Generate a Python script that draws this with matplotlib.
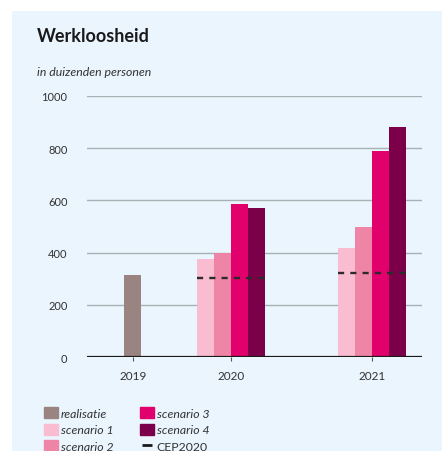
import matplotlib.pyplot as plt
import matplotlib.patches as mpatches
from matplotlib.lines import Line2D
import numpy as np

plt.rcParams['font.family'] = ['Lato', 'DejaVu Sans']

years = ["2019", "2020", "2021"]
realisatie = [314]           # 2019
scenario1 = [375, 419]       # 2020, 2021
scenario2 = [397, 500]
scenario3 = [585, 787]
scenario4 = [571, 880]
cep2020 = [304, 321]

labels = ["realisatie", "scenario 1", "scenario 2", "scenario 3", "scenario 4", "CEP2020"]
colors = ["#9A8481", "#F9BCD0", "#EF85A6", "#E2006D", "#7B0049"]

W, H = 442, 452
fig = plt.figure(figsize=(W / 100, H / 100), dpi=100)
fig.patch.set_facecolor("white")
fig.patches.append(mpatches.Rectangle((12 / W, 0), 1, 1 - 12 / H, transform=fig.transFigure,
                                      facecolor="#EAF5FD", edgecolor="none", zorder=-10))

ax = fig.add_axes([87 / W, (H - 358.3) / H, (421.7 - 87) / W, (358.3 - 96.7) / H])
ax.set_facecolor("none")

# group centres in bar-width units
centers = np.array([0, 5.79, 14.09])
bw = 1.0
offs = np.array([-1.5, -0.5, 0.5, 1.5])

ax.bar(centers[0], realisatie[0], width=bw, color=colors[0], zorder=3)
for i, ser in enumerate([scenario1, scenario2, scenario3, scenario4]):
    ax.bar(centers[1:] + offs[i], ser, width=bw, color=colors[i + 1], zorder=3)
for c, v in zip(centers[1:], cep2020):
    ax.plot([c - 2, c + 2], [v, v], color="#2b2b2b", lw=1.7, ls=(0, (2.6, 2.6)), zorder=4)

ax.set_xlim(-2.69, 16.99)
ax.set_ylim(0, 1000)
ax.set_yticks([0, 200, 400, 600, 800, 1000])
ax.yaxis.grid(True, color="#A7B0B5", lw=1)
ax.set_axisbelow(True)
ax.axhline(0, color="#1a1a1a", lw=1.6, zorder=5)
for s in ax.spines.values():
    s.set_visible(False)
ax.tick_params(axis="y", length=0, pad=14, labelsize=8, labelcolor="#333333")
ax.set_xticks(centers)
ax.set_xticklabels(years)
ax.tick_params(axis="x", length=3, color="#555555", pad=6, labelsize=8.5, labelcolor="#333333")

fig.text(37 / W, 1 - 36 / H, "Werkloosheid", fontsize=13, fontweight="bold",
         color="#1a1a1a", va="center")
fig.text(37 / W, 1 - 73 / H, "in duizenden personen", fontsize=8.8, style="italic",
         color="#333333", va="center")

handles = [mpatches.Patch(color=c) for c in colors]
handles.append(Line2D([], [], color="#1a1a1a", marker="_", markersize=7, mew=2, ls="none"))
leg = fig.legend(handles, labels, ncol=2, loc="upper left", bbox_to_anchor=(38 / W, 1 - 402 / H),
                 frameon=False, fontsize=8.8, handlelength=1.1, handleheight=1.05,
                 handletextpad=0.25, columnspacing=2.2, labelspacing=0.38, borderpad=0)
for t in leg.get_texts()[:5]:
    t.set_style("italic")
for t in leg.get_texts():
    t.set_color("#333333")

fig.savefig("out.png", dpi=100)
